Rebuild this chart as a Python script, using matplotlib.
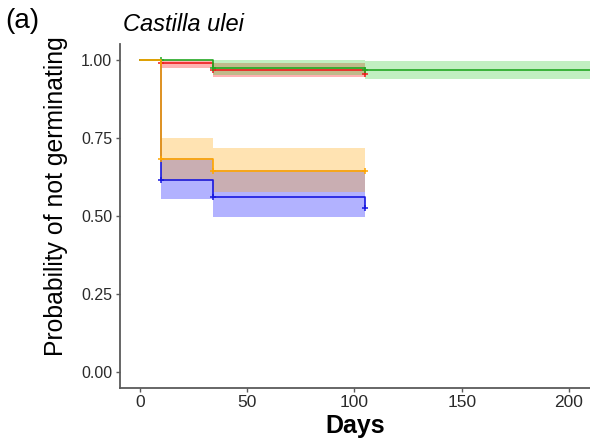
import matplotlib
matplotlib.use("Agg")
import matplotlib.pyplot as plt

plt.rcParams['font.family'] = ['Liberation Sans', 'DejaVu Sans']

# Kaplan-Meier step times (days) and estimates for each group
blue_t = [0, 10, 34, 105]
blue_s = [1.0, 0.613, 0.560, 0.526]
blue_lo = [1.0, 0.553, 0.495, 0.526]
blue_hi = [1.0, 0.686, 0.645, 0.526]

red_t = [0, 10, 34, 105]
red_s = [1.0, 0.989, 0.968, 0.955]
red_lo = [1.0, 0.974, 0.945, 0.955]
red_hi = [1.0, 1.0, 0.990, 0.955]

green_t = [0, 10, 34, 105, 220]
green_s = [1.0, 1.0, 0.973, 0.966, 0.966]
green_lo = [1.0, 1.0, 0.950, 0.938, 0.938]
green_hi = [1.0, 1.0, 1.0, 0.997, 0.997]

orange_t = [0, 10, 34, 105]
orange_s = [1.0, 0.680, 0.642, 0.642]
orange_lo = [1.0, 0.610, 0.576, 0.642]
orange_hi = [1.0, 0.750, 0.718, 0.642]

# censoring marks
cens_t = [10, 34, 105]
blue_c = [0.613, 0.560, 0.526]
red_c = [0.989, 0.968, 0.955]
green_c = [1.0, 0.973, 0.966]
orange_c = [0.680, 0.642, 0.642]

xticks = [0, 50, 100, 150, 200]
yticks = [0.0, 0.25, 0.5, 0.75, 1.0]

groups = [
    (blue_t, blue_s, blue_lo, blue_hi, blue_c, '#0000FF', '#1818E0'),
    (red_t, red_s, red_lo, red_hi, red_c, '#FF0000', '#EE1C1C'),
    (green_t, green_s, green_lo, green_hi, green_c, '#32CD32', '#22A822'),
    (orange_t, orange_s, orange_lo, orange_hi, orange_c, '#FFA500', '#FFA500'),
]

fig = plt.figure(figsize=(5.9, 4.43), dpi=100)
ax = fig.add_axes([0.2034, 0.1242, 0.7966, 0.7765])

# confidence bands first
for t, s, lo, hi, c, band, line in groups:
    ax.fill_between(t, lo, hi, step='post', color=band, alpha=0.3, linewidth=0)

# survival curves and censor marks
for t, s, lo, hi, c, band, line in groups:
    ax.step(t, s, where='post', color=line, linewidth=1.2)
    ax.plot(cens_t, c, linestyle='none', marker='+', markersize=5,
            markeredgewidth=1.1, color=line)

ax.set_xlim(-9.3, 209.8)
ax.set_ylim(-0.052, 1.05)
ax.set_xticks(xticks)
ax.set_yticks(yticks)
ax.set_yticklabels([f'{v:.2f}' for v in yticks])

for side in ['top', 'right']:
    ax.spines[side].set_visible(False)
for side in ['left', 'bottom']:
    ax.spines[side].set_color('#5a5a5a')
    ax.spines[side].set_linewidth(1.3)

ax.tick_params(axis='x', labelsize=12.5, length=3, width=1, color='#5a5a5a',
               labelcolor='#2a2a2a', pad=2)
ax.tick_params(axis='y', labelsize=11.5, length=3, width=1, color='#5a5a5a',
               labelcolor='#2a2a2a', pad=2.5)

ax.set_xlabel('Days', fontsize=18, fontweight='bold')
ax.xaxis.set_label_coords(0.5, -0.075)
ax.xaxis.label.set_va('top')
ax.set_ylabel('Probability of not germinating', fontsize=17.8)
ax.yaxis.set_label_coords(-0.111, 0.558)

fig.text(123 / 590, 1 - 31 / 443, 'Castilla ulei', fontsize=17, style='italic',
         va='baseline', ha='left')
fig.text(5 / 590, 1 - 28 / 443, '(a)', fontsize=20, va='baseline', ha='left')

fig.savefig('out.png', dpi=100)
